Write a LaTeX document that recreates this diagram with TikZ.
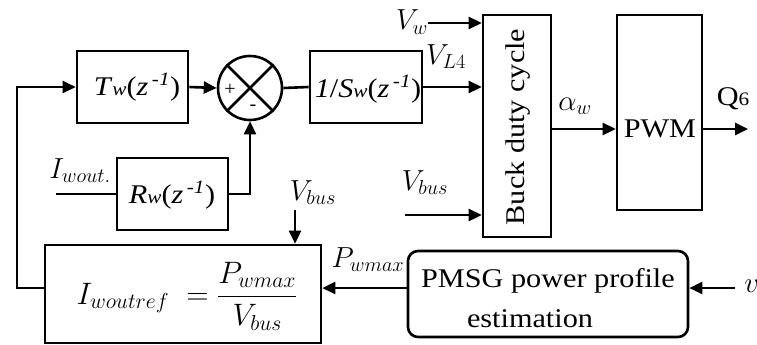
\documentclass[tikz,border=0pt]{standalone}
\usepackage{fix-cm}
\usepackage{fontspec}
\setmainfont{Liberation Serif}
\usepackage{graphicx}
\usetikzlibrary{arrows.meta,calc}
\newcommand{\hx}[1]{\scalebox{1.12}[1]{#1}}
\newcommand{\sm}[1]{{\fontsize{19}{19}\selectfont\itshape #1}}
\newcommand{\zinv}{(\textit{z}\textsuperscript{\,-\textit{1}})}
\begin{document}
\begin{tikzpicture}[x=1pt,y=-1pt,line width=2.6pt,
  every node/.style={inner sep=0pt,font=\fontsize{27}{30}\selectfont},
  blk/.style={draw,rectangle},
  arr/.style={-{Triangle[length=13pt,width=12pt]}},
  lbl/.style={anchor=base,font=\fontsize{29}{32}\selectfont}]
\useasboundingbox (0,0) rectangle (757,345);

% blocks
\node[blk,minimum width=111pt,minimum height=72pt] (Tw) at (132.5,87) {};
\node[anchor=base] (Twt) at (137,95) {\hx{\textit{T}\sm{w}\zinv}};
\node[draw,circle,minimum size=64pt] (sum) at (250,88) {};
\draw (sum.north west) -- (sum.south east);
\draw (sum.north east) -- (sum.south west);
\node (plus) at ($(sum)+(-20,2)$) {\fontsize{20}{20}\selectfont +};
\node (minus) at ($(sum)+(3,20)$) {\fontsize{20}{20}\selectfont -};
\node[blk,minimum width=112pt,minimum height=72pt] (S) at (366,87) {};
\node[anchor=base] (St) at (368,97) {\hx{\textit{1}/\textit{S}\sm{w}\zinv}};
\node[blk,minimum width=68pt,minimum height=222pt] (buck) at (517,126) {};
\node[rotate=90] (buckt) at (518,127) {\hx{Buck duty cycle}};
\node[blk,minimum width=85pt,minimum height=195pt] (pwm) at (659.5,112.5) {};
\node (pwmt) at (660,129) {\hx{PWM}};
\node[blk,minimum width=111pt,minimum height=72pt] (Rw) at (172.5,194) {};
\node[anchor=base] (Rwt) at (172,203) {\hx{\textit{R}\sm{w}\zinv}};
\node[blk,minimum width=276pt,minimum height=98pt] (Iref) at (183,294) {};
\node (Ireft) at (187,296) {\fontsize{31}{34}\selectfont$\displaystyle I_{woutref}\;=\frac{P_{wmax}}{V_{bus}}$};
\node[draw,rectangle,rounded corners=10pt,minimum width=280pt,minimum height=86pt] (pmsg) at (548,294) {};
\node[anchor=base] (pm1) at (548,287) {\hx{PMSG power profile}};
\node[anchor=base] (pm2) at (530,327) {\hx{estimation}};

% labels
\node[lbl] (lvw) at (412,30) {$V_w$};
\node[lbl] (lvl) at (446,64) {$V_{L4}$};
\node[lbl] (law) at (575,110) {$\alpha_w$};
\node[lbl] (lq) at (733,105) {\fontsize{27}{30}\selectfont\hx{Q{\fontsize{19}{19}\selectfont 6}}};
\node[lbl] (lvb1) at (425,190) {$V_{bus}$};
\node[lbl] (lvb2) at (313,200) {$V_{bus}$};
\node[lbl] (liw) at (80,178) {$I_{wout.}$};
\node[lbl] (lpw) at (368,267) {$P_{wmax}$};
\node[lbl,anchor=base west] (lv) at (743,292) {$v$};

% coordinates
\coordinate (vwin) at (428,23);
\coordinate (vbin) at (405,215);
\coordinate (qout) at (748,129);
\coordinate (iw) at (56,194);
\coordinate (vbtop) at (295,210);
\coordinate (fb) at (17,288);
\coordinate (vin) at (735,288);

% connectors
\draw[arr] (Tw.east) -- (sum.west);
\draw (sum.east) -- (S.west);
\draw[arr] (S.east) -- (S.east -| buck.west);
\draw[arr] (vwin) -- (vwin -| buck.west);
\draw[arr] (vbin) -- (vbin -| buck.west);
\draw[arr] (buck.east |- pwmt) -- (pwmt -| pwm.west);
\draw[arr] (pwm.east |- qout) -- (qout);
\draw (iw) -- (Rw.west);
\draw[arr] (Rw.east) -| (sum.south);
\draw[arr] (vbtop) -- (vbtop |- Iref.north);
\draw[arr] (Iref.west |- fb) -- (fb) |- (Tw.west);
\draw[arr] (pmsg.west |- fb) -- (Iref.east |- fb);
\draw[arr] (vin) -- (pmsg.east |- vin);
\end{tikzpicture}
\end{document}
